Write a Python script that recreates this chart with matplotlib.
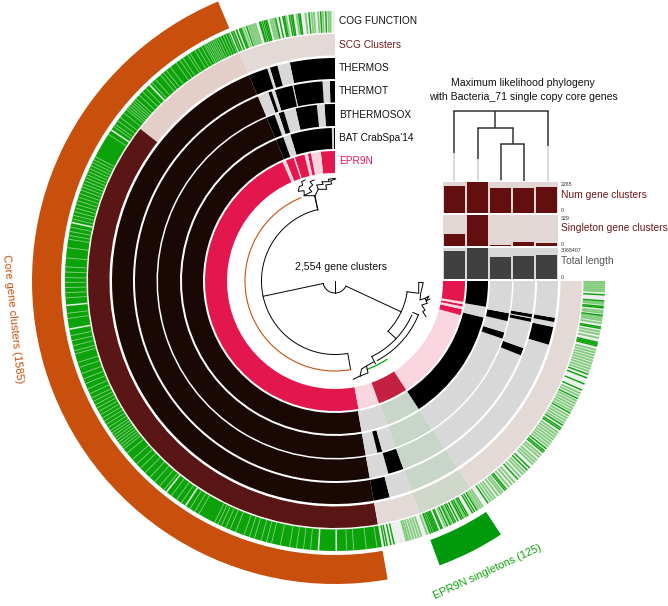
import numpy as np
import matplotlib
matplotlib.use("Agg")
import matplotlib.pyplot as plt

plt.rcParams['font.family'] = ['Liberation Sans', 'DejaVu Sans']

# ring segments, angle in degrees going counter clockwise from the top
epr9n_edges = [0, 6.3, 10.7, 12.1, 13.6, 18, 18.6, 22.2, 23.8, 190.4, 199.8, 213.2, 254.8, 257.5, 258.7, 259.7, 260.8, 270]
epr9n_kinds = "cpcpcpcpcpdpcpcpc"
bat_edges = [0, 0.5, 1.2, 17, 19.8, 22.7, 190, 200, 213.2, 256.2, 260.3, 270]
bat_kinds = "kgkgktgwkgk"
bthermosox_edges = [0, 3.4, 5.9, 12.9, 16.8, 18.6, 20, 22.7, 190, 193.9, 195.5, 200, 213.2, 251, 253.1, 256.9, 259.5, 270]
bthermosox_kinds = "kgkgkgktgkgwgkgkg"
thermot_edges = [0, 1.5, 3.6, 12, 12.3, 17.5, 18.5, 19.5, 22.7, 190, 195.5, 200, 213.2, 248.2, 250.4, 258.2, 259.2, 259.5, 260.5, 270]
thermot_kinds = "kgkgkgkgtgkwgkgkgkg"
thermos_edges = [0, 11.7, 15, 17, 17.7, 22.7, 190, 194.2, 200, 213.2, 253.4, 258.1, 259.4, 260.5, 270]
thermos_kinds = "kgkgktkgwgkgkg"
scg_edges = [0, 22.7, 52, 190, 200, 213.2, 270]
scg_kinds = "loblvl"
ring_names = ["EPR9N", "BAT CrabSpa'14", "BTHERMOSOX", "THERMOT", "THERMOS", "SCG Clusters", "COG FUNCTION"]

# COG ring stripes
cog_dark = [1.8, 2.9, 5.4, 7.3, 7.6, 8.9, 9.2, 9.6, 10.7, 11, 11.8, 12.6, 14.5, 14.8, 15.1, 15.5, 15.9, 16.1, 19.0, 20.3, 20.6, 21.3, 21.9, 22.4,
            190.5, 191, 191.8, 192.5, 200.6, 201, 201.4, 201.7, 202, 202.3, 203, 203.3, 204.5, 205.2, 206, 206.4, 207, 207.8, 208.2, 209, 209.4, 210.5, 211, 211.6,
            214.4, 218.9, 219.3, 222.5, 225.3, 226, 230.4, 230.8, 231.4, 236.4, 236.8, 237.5, 240.5, 244, 246, 247.4,
            248.8, 249.6, 255.9, 256.2, 256.4, 256.7, 259.7, 260, 262.5, 264.1, 264.4, 265.6, 266.9]
cog_light = [0.8, 1.2, 2.4, 3.4, 4.3, 4.8, 6.1, 8, 10.3, 12.9, 13.3, 13.7, 17, 17.4, 17.8, 18.2, 18.5, 19.5, 20, 21.2, 22.2,
             195.2, 195.6, 196.1, 196.7, 197.3, 197.9, 198.5, 199.8, 200.4, 204, 205, 205.5, 207.6, 208.6, 212, 212.5, 213,
             215, 215.6, 216.2, 217, 217.7, 218.2, 220, 220.8, 221.5, 223.2, 224, 224.6, 227, 227.6, 228.2, 229, 229.6,
             232, 232.6, 233.2, 233.8, 234.4, 235, 235.6, 238, 238.6, 239.2, 239.8, 241, 241.6, 242.2, 242.8, 243.4,
             244.6, 245.2, 250.2, 250.8, 251.4, 252, 252.6, 253.2, 253.8, 254.4, 255, 257.6, 258.4, 259, 260.8, 261.4,
             261.8, 262.2, 263, 263.4, 264.9, 265.2, 267.6, 268, 268.4, 268.8, 269.2, 269.6]
core_solid = [23, 190]
core_pale = [23.2, 23.8, 24.4, 25, 25.6, 26.1, 26.5, 26.9, 27.3, 27.7, 28.1, 28.5, 28.9, 29.6, 30.4, 31.2, 32.4, 33, 34.2, 35,
             36, 37.5, 38.6, 39.4, 40.2, 41.6, 42.6, 44.4, 45.4, 46.4, 47.4, 48, 48.5, 49, 49.5, 50, 50.5, 51.4, 52.6, 53.5,
             54.4, 55, 57, 62.5, 63.2, 63.9, 64.6, 65.3, 66, 66.7, 67.4, 68.1, 68.8, 69.5, 70.2, 71, 71.8, 72.6, 73.4, 74.2,
             75, 75.8, 76.6, 78.4, 79.3, 80.2, 81, 82.8, 85, 86.9, 88, 89.2, 90.2, 91.3, 92.4, 93.5, 96.8, 97.9, 101.6,
             102.7, 103.8, 104.9, 105.6, 107.5, 108.6, 110, 111.2, 112.3, 113.5, 114.6, 115.6, 116.4, 117.2, 118, 118.8,
             119.6, 120.4, 121.2, 122, 122.8, 123.6, 124.2, 124.8, 125.4, 126, 126.6, 127.2, 127.8, 128.4, 129.5, 131.3,
             132.6, 133.8, 135.2, 136.6, 138, 139.4, 140.6, 142.6, 144, 145.2, 147.4, 148.6, 149.6, 153.4, 154.2, 155, 156,
             157, 158.3, 160.2, 161.4, 162.5, 164, 165.2, 166.3, 168.2, 170.2, 171.7, 173.2, 174.7, 182.4, 183.9, 186.6, 188.9]
core_wide = [43.2, 55.8, 77.3, 95, 100.1, 141.2, 146.2, 176.3, 180.1]

# tree inside the rings
tree_arcs = [(12, 102, 243), (73.5, 13.5, 190), (73, 226.6, 261), (84, 206, 246), (90, 208, 248)]
tree_radials = [(102, 12, 73.5), (180, 0, 12), (245, 12, 73), (13.5, 73, 88), (190, 74, 90), (226.6, 73, 84), (248, 84, 90), (206, 84, 92)]
tree_tips = [
    [(317.7, 210), (315, 195.7), (304.3, 195.7), (304, 190.7), (298.3, 191.3), (299.3, 186.7), (302.7, 185), (301.7, 181.7), (305, 180)],
    [(304, 195.7), (308.3, 193.3), (311.7, 191.7), (309, 188.3), (312.7, 185), (310, 181.7), (314, 180)],
    [(315, 195.7), (318.3, 189.3), (316.7, 185), (323.3, 184.3), (321.7, 181.7), (329.3, 181.7), (328.3, 179.3), (335, 178.3)],
    [(318.3, 189.3), (326.7, 189.3), (325.7, 185), (331.7, 184), (330.7, 180.7), (335.7, 179)],
    [(406.7, 291.7), (418.7, 293.3), (418.7, 282.3), (423.3, 282.7), (420.7, 293.3), (420, 300), (425, 298.3), (427.3, 303.3),
     (421.7, 305), (425, 310), (422.7, 311.7), (426, 316.7)],
    [(425, 298.3), (429, 296), (426, 301), (430, 299)],
    [(373.3, 362), (366.5, 366), (368, 373), (359, 376.5), (353.3, 379.3)],
    [(366.5, 366), (361.5, 369), (360, 376.5)],
]

# genome bars top right
num_gene_clusters = [1948, 2265, 1778, 1826, 1851]
singleton_clusters = [122, 329, 14, 45, 35]
total_length = [2810000, 3068407, 2220000, 2290000, 2380000]

# phylogeny lines: x, y top, y dark end, y bottom
phylo_drops = [(454, 111, 153, 181), (547.7, 111, 146, 181), (477.7, 128, 159, 181), (501, 144, 180, 181), (524.3, 144, 181, 181)]
phylo_bars = [(454, 547.7, 111), (477.7, 512.7, 128), (501, 524.3, 144)]
phylo_stems = [(495, 111, 128), (512.7, 128, 144)]

colors = {"k": "#000000", "g": "#d8d8d8", "t": "#190804", "w": "#c7d6c8", "l": "#e3dad8", "o": "#e3cfc8",
          "b": "#5a1614", "v": "#cfd8cb", "c": "#e3174e", "p": "#f9d5e0", "d": "#c4203f"}
orange = "#c94f0c"
green = "#0ca30a"

fig = plt.figure(figsize=(6.68, 6.06), dpi=100)
R = 320
cx, cy = 335, 281
ax = fig.add_axes([(cx - R) / 668, (606 - cy - R) / 606, 2 * R / 668, 2 * R / 606], projection='polar')
ax.set_theta_zero_location('N')
ax.set_theta_direction(1)
ax.set_rlim(0, R)
ax.set_axis_off()


def arc(t0, t1, r0, r1, color, zorder=2):
    ax.bar(np.radians((t0 + t1) / 2), r1 - r0, width=np.radians(t1 - t0), bottom=r0, color=color, linewidth=0, zorder=zorder)


def ring(edges, kinds, r0, r1):
    for i, k in enumerate(kinds):
        arc(edges[i], edges[i + 1], r0, r1, colors[k])


ring(epr9n_edges, epr9n_kinds, 108, 130)
ring(bat_edges, bat_kinds, 132, 153)
ring(bthermosox_edges, bthermosox_kinds, 155, 177)
ring(thermot_edges, thermot_kinds, 178.5, 200)
ring(thermos_edges, thermos_kinds, 202, 223)
ring(scg_edges, scg_kinds, 225.5, 247)

# cog ring
arc(0, 270, 248.5, 270, "#eeeeee")
arc(core_solid[0], core_solid[1], 248.5, 270, green, 3)
for t in cog_light:
    arc(t, t + 0.4, 248.5, 270, "#7fcc7a", 4)
for t in cog_dark:
    arc(t, t + 0.32, 248.5, 270, green, 4)
for t in core_pale:
    arc(t, t + 0.18, 248.5, 270, "#8dd087", 4)
for t in core_wide:
    arc(t, t + 0.35, 248.5, 270, "#dcecd8", 4)

# outer blocks
arc(22.7, 190, 274, 303, orange)
arc(200.2, 213.2, 276, 303, "#019a0d")

# tree
for r, t0, t1 in tree_arcs:
    tt = np.radians(np.linspace(t0, t1, 80))
    ax.plot(tt, np.full(80, r), color="black", lw=0.7, zorder=5)
for t, r0, r1 in tree_radials:
    ax.plot(np.radians([t, t]), [r0, r1], color="black", lw=0.7, zorder=5)
ax.plot(np.radians(np.linspace(22.3, 190, 120)), np.full(120, 90), color=orange, lw=0.8, zorder=5)
ax.plot(np.radians(np.linspace(200, 213.6, 30)), np.full(30, 94), color="#0ca30a", lw=0.9, zorder=5)

# overlay in pixel coordinates
ov = fig.add_axes([0, 0, 1, 1], facecolor="none")
ov.set_xlim(0, 668)
ov.set_ylim(606, 0)
ov.set_axis_off()

for path in tree_tips:
    ov.plot([p[0] for p in path], [p[1] for p in path], color="black", lw=0.7)

for (x, y0, y1, y2) in phylo_drops:
    ov.plot([x, x], [y1, y2], color="#cfcfcf", lw=1.1, solid_capstyle='butt')
    ov.plot([x, x], [y0, y1], color="#333333", lw=1.1, solid_capstyle='butt')
for (x0, x1, y) in phylo_bars:
    ov.plot([x0, x1], [y, y], color="#333333", lw=1.1, solid_capstyle='projecting')
for (x, y0, y1) in phylo_stems:
    ov.plot([x, x], [y0, y1], color="#333333", lw=1.1, solid_capstyle='butt')

ov.text(523, 83, "Maximum likelihood phylogeny", ha='center', va='center', fontsize=7.6, color="#111111")
ov.text(523, 97, "with Bacteria_71 single copy core genes", ha='center', va='center', fontsize=7.6, color="#111111")

label_y = [161, 138, 115, 91, 68, 45, 21]
label_c = ["#e8175d", "#111111", "#111111", "#111111", "#111111", "#6b1d1d", "#111111"]
for name, y, c in zip(ring_names, label_y, label_c):
    ov.text(339, y, name, va='center', ha='left', fontsize=7.3, color=c)

ov.text(341, 267, "2,554 gene clusters", ha='center', va='center', fontsize=7.6, color="#111111")
ov.text(13, 319, "Core gene clusters (1585)", ha='center', va='center', rotation=-84, rotation_mode='anchor', fontsize=8, color=orange)
ov.text(487.5, 572, "EPR9N singletons (125)", ha='center', va='center', rotation=24.7, rotation_mode='anchor', fontsize=7.9, color="#0ca30a")


def panel(values, top, bottom, bg, fg):
    pa = fig.add_axes([443.3 / 668, 1 - bottom / 606, 115 / 668, (bottom - top) / 606], facecolor=bg)
    pa.bar(range(5), values, width=0.92, color=fg, linewidth=0)
    pa.set_xlim(-0.5, 4.5)
    pa.set_ylim(0, max(values))
    pa.set_xticks([])
    pa.set_yticks([])
    for s in pa.spines.values():
        s.set_visible(False)


panel(num_gene_clusters, 181.7, 212.7, "#e3d7d5", "#640f0f")
panel(singleton_clusters, 214.7, 246, "#e3d7d5", "#640f0f")
panel(total_length, 248, 279.3, "#d8d8d8", "#404040")

ov.text(561, 195, "Num gene clusters", va='center', fontsize=7.4, color="#6e1a1a")
ov.text(561, 228, "Singleton gene clusters", va='center', fontsize=7.4, color="#6e1a1a")
ov.text(561, 261.5, "Total length", va='center', fontsize=7.4, color="#555555")
for y, s in [(185, "2265"), (211, "0"), (218, "329"), (244, "0"), (251, "3068407"), (277.5, "0")]:
    ov.text(561, y, s, va='center', fontsize=3.8, color="#333333")

fig.savefig("out.png", dpi=100)
